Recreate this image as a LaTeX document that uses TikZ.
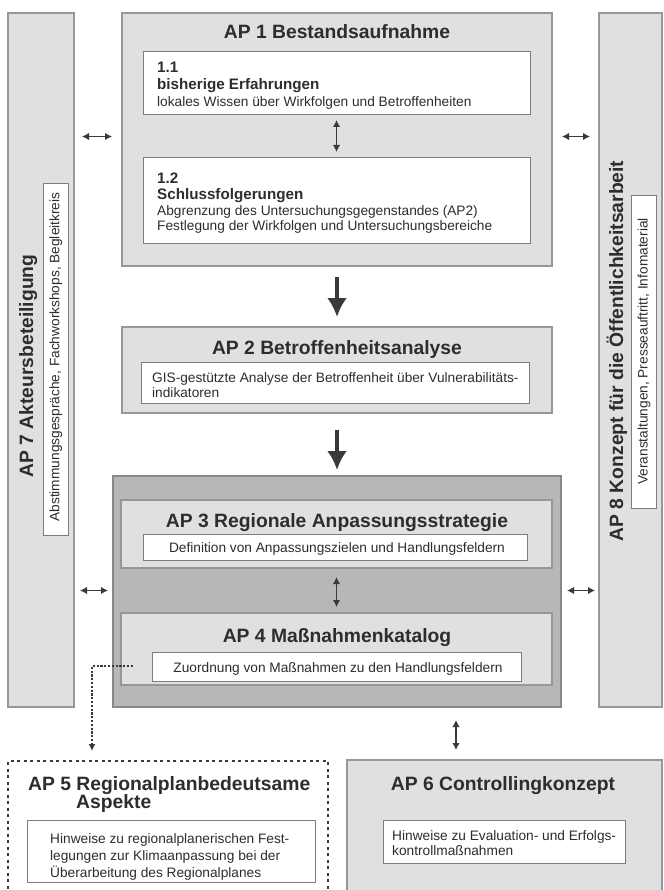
\documentclass[tikz,border=0pt]{standalone}
\usepackage{fontspec}
\setmainfont{Liberation Sans}
\usetikzlibrary{arrows.meta,calc}
\definecolor{boxfill}{RGB}{223,224,226}
\definecolor{bordc}{RGB}{150,151,153}
\definecolor{darkfill}{RGB}{182,183,185}
\definecolor{darkbord}{RGB}{135,136,138}
\definecolor{wbord}{RGB}{125,125,127}
\definecolor{txtc}{RGB}{45,45,47}
\definecolor{arrowc}{RGB}{58,58,60}
\newcommand\ftitle{\fontsize{19.3}{21}\selectfont\bfseries}
\newcommand\fsubhead{\fontsize{15.2}{17}\selectfont\bfseries}
\newcommand\fbody{\fontsize{13.7}{16}\selectfont}
\tikzset{
  lbox/.style={draw=bordc, fill=boxfill, line width=1.2pt, inner sep=0pt, outer sep=0pt},
  dbox/.style={draw=darkbord, fill=darkfill, line width=1.2pt, inner sep=0pt, outer sep=0pt},
  wbox/.style={draw=wbord, fill=white, line width=1pt, inner sep=0pt, outer sep=0pt},
  dashbox/.style={draw=arrowc, fill=white, line width=1.3pt, dash pattern=on 3pt off 3.5pt, inner sep=0pt, outer sep=0pt},
  ttl/.style={inner sep=0pt, text=txtc, font=\ftitle, anchor=base},
  txtsub/.style={inner sep=0pt, text=txtc, font=\fsubhead, anchor=base west},
  txtbody/.style={inner sep=0pt, text=txtc, font=\fbody, anchor=base west},
  txtrot/.style={inner sep=0pt, text=txtc, font=\fbody, anchor=base, rotate=90},
  dblarrow/.style={draw=arrowc, line width=1.4pt, {Latex[length=7pt,width=7.5pt]}-{Latex[length=7pt,width=7.5pt]}},
  bigarrow/.style={draw=arrowc, line width=4pt, -{Latex[length=19pt,width=20pt]}},
  dashconn/.style={draw=arrowc, line width=1.5pt, dash pattern=on 2.2pt off 1.6pt, -{Latex[length=7pt,width=7pt]}},
}
\begin{document}
\begin{tikzpicture}[x=1pt,y=-1pt]
\useasboundingbox (0,0) rectangle (663,890);
\clip (0,0) rectangle (663,890);
\fill[white] (0,0) rectangle (663,890);

% side columns
\node[lbox, minimum width=66pt, minimum height=694pt] (ap7) at (41,360) {};
\node[wbox, minimum width=25pt, minimum height=351pt] (ap7w) at (55.5,359.5) {};
\node[ttl, rotate=90] (ap7t) at (33,366) {AP 7 Akteursbeteiligung};
\node[txtrot] (ap7s) at (59.3,357) {Abstimmungsgespräche, Fachworkshops, Begleitkreis};

\node[lbox, minimum width=63pt, minimum height=694pt] (ap8) at (630.5,360) {};
\node[wbox, minimum width=25pt, minimum height=312pt] (ap8w) at (643.5,352) {};
\node[ttl, rotate=90] (ap8t) at (623,351) {AP 8 Konzept für die Öffentlichkeitsarbeit};
\node[txtrot] (ap8s) at (647.5,351.5) {Veranstaltungen, Presseauftritt, Infomaterial};

% AP 1
\node[lbox, minimum width=430pt, minimum height=253pt] (ap1) at (337,139.5) {};
\node[ttl] (ap1t) at (337,39) {AP 1 Bestandsaufnahme};
\node[wbox, minimum width=387pt, minimum height=63pt] (b11) at (336.5,83.5) {};
\node[txtsub] (b11a) at (157,73) {1.1};
\node[txtsub] (b11b) at (157,90) {bisherige Erfahrungen};
\node[txtbody] (b11c) at (157,107) {lokales Wissen über Wirkfolgen und Betroffenheiten};
\node[wbox, minimum width=387pt, minimum height=86pt] (b12) at (336.5,201) {};
\node[txtsub] (b12a) at (157,183.5) {1.2};
\node[txtsub] (b12b) at (157,199.5) {Schlussfolgerungen};
\node[txtbody] (b12c) at (157,215.5) {Abgrenzung des Untersuchungsgegenstandes (AP2)};
\node[txtbody] (b12d) at (157,230.5) {Festlegung der Wirkfolgen und Untersuchungsbereiche};

% AP 2
\node[lbox, minimum width=430pt, minimum height=86pt] (ap2) at (337,370) {};
\node[ttl] (ap2t) at (337,354.5) {AP 2 Betroffenheitsanalyse};
\node[wbox, minimum width=388pt, minimum height=41pt] (ap2w) at (335,382.5) {};
\node[txtbody] (ap2a) at (152,382) {GIS-gestützte Analyse der Betroffenheit über Vulnerabilitäts-};
\node[txtbody] (ap2b) at (152,397) {indikatoren};

% group AP3/AP4
\node[dbox, minimum width=448pt, minimum height=231pt] (big) at (337,591.5) {};
\node[lbox, minimum width=431pt, minimum height=68pt] (ap3) at (336.5,534) {};
\node[ttl] (ap3t) at (337,527) {AP 3 Regionale Anpassungsstrategie};
\node[wbox, minimum width=384pt, minimum height=26pt] (ap3w) at (335,547) {};
\node[txtbody, anchor=base] (ap3a) at (337,552.5) {Definition von Anpassungszielen und Handlungsfeldern};
\node[lbox, minimum width=431pt, minimum height=72pt] (ap4) at (336.5,649) {};
\node[ttl] (ap4t) at (337,642) {AP 4 Maßnahmenkatalog};
\node[wbox, minimum width=369pt, minimum height=29pt] (ap4w) at (336.5,666.5) {};
\node[txtbody, anchor=base] (ap4a) at (338,672.5) {Zuordnung von Maßnahmen zu den Handlungsfeldern};

% AP 5
\node[dashbox, minimum width=320pt, minimum height=139pt] (ap5) at (168,830.5) {};
\node[ttl, anchor=base west] (ap5t) at (28,790) {AP 5 Regionalplanbedeutsame};
\node[ttl, anchor=base west] (ap5u) at (76,808) {Aspekte};
\node[wbox, minimum width=288pt, minimum height=62pt] (ap5w) at (171,851) {};
\node[txtbody] (ap5a) at (50,843) {Hinweise zu regionalplanerischen Fest-};
\node[txtbody] (ap5b) at (50,860) {legungen zur Klimaanpassung bei der};
\node[txtbody] (ap5c) at (50,877) {Überarbeitung des Regionalplanes};

% AP 6
\node[lbox, minimum width=315pt, minimum height=140pt] (ap6) at (504.5,830) {};
\node[ttl] (ap6t) at (503,790) {AP 6 Controllingkonzept};
\node[wbox, minimum width=242pt, minimum height=43pt] (ap6w) at (504,841.5) {};
\node[txtbody] (ap6a) at (392,840) {Hinweise zu Evaluation- und Erfolgs-};
\node[txtbody] (ap6b) at (392,855.5) {kontrollmaßnahmen};

% connectors
\coordinate (m1) at ($(b11.south)!0.5!(b12.north)$);
\coordinate (m2) at ($(ap3.south)!0.5!(ap4.north)$);
\draw[dblarrow, shorten <=8pt, shorten >=10pt] (ap7.east |- m1) -- (ap1.west |- m1);
\draw[dblarrow, shorten <=10pt, shorten >=9pt] (ap1.east |- m1) -- (ap8.west |- m1);
\draw[dblarrow, shorten <=5pt, shorten >=6pt] (b11.south) -- (b12.north);
\draw[bigarrow, shorten <=11pt, shorten >=10pt] (ap1.south) -- (ap2.north);
\draw[bigarrow, shorten <=17pt, shorten >=6pt] (ap2.south) -- (big.north);
\draw[dblarrow, shorten <=9pt, shorten >=6pt] (ap3.south) -- (ap4.north);
\draw[dblarrow, shorten <=6pt, shorten >=5pt] (ap7.east |- m2) -- (big.west |- m2);
\draw[dblarrow, shorten <=6pt, shorten >=4pt] (big.east |- m2) -- (ap8.west |- m2);
\coordinate (a6) at ($(big.south)+(119,0)$);
\draw[dblarrow, shorten <=13pt, shorten >=10pt] (a6) -- (ap6.north -| a6);
\coordinate (dstart) at (133,666);
\coordinate (dturn) at (92,666);
\draw[dashconn, shorten >=10pt] (dstart) -- (dturn) -- (dturn |- ap5.north);
\end{tikzpicture}
\end{document}
